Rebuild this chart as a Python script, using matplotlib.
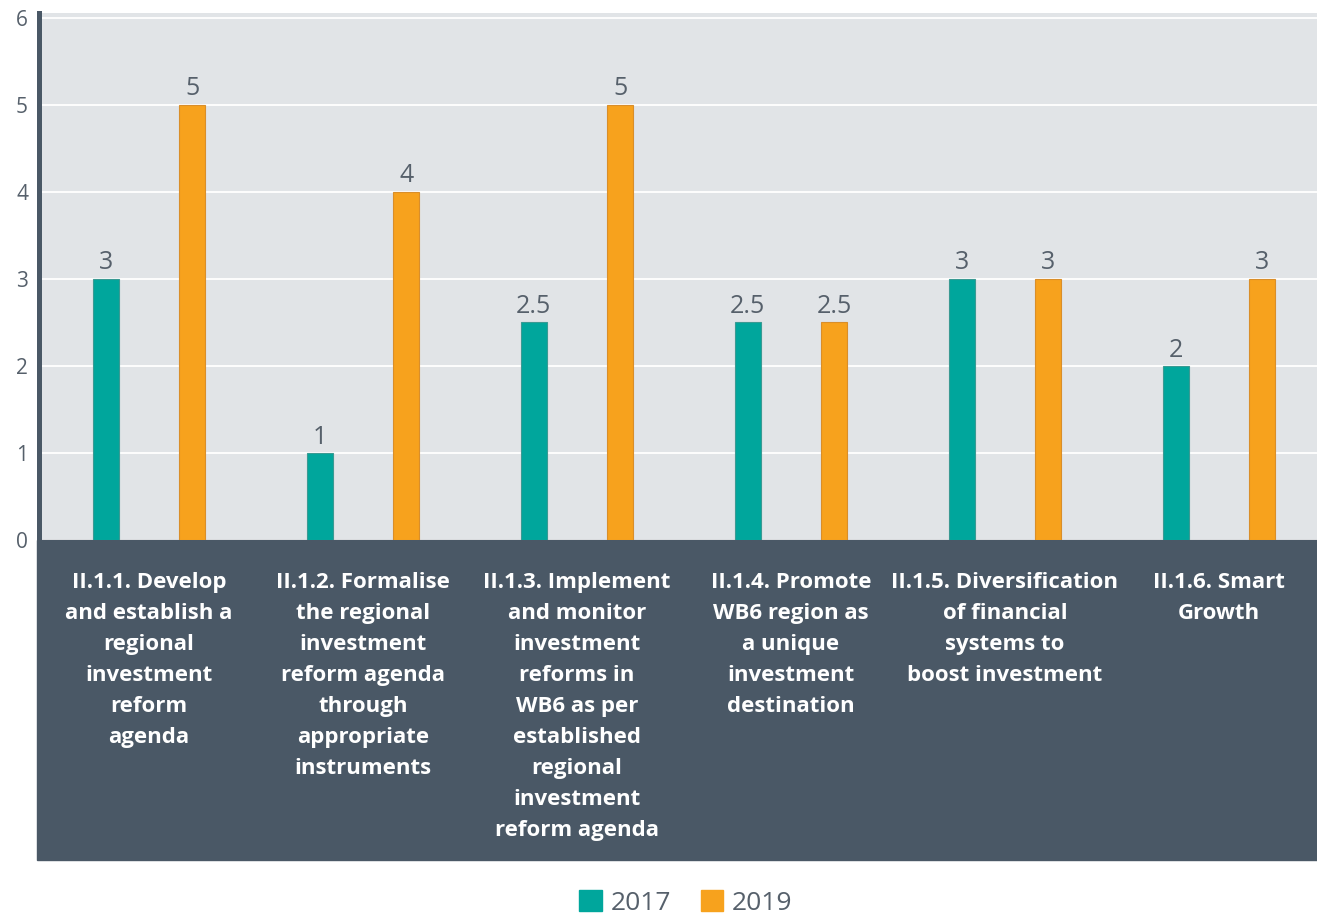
import matplotlib

matplotlib.use("Agg")
import matplotlib.pyplot as plt
import numpy as np
from matplotlib.patches import Rectangle

categories = [
    "II.1.1. Develop\nand establish a\nregional\ninvestment\nreform\nagenda",
    "II.1.2. Formalise\nthe regional\ninvestment\nreform agenda\nthrough\nappropriate\ninstruments",
    "II.1.3. Implement\nand monitor\ninvestment\nreforms in\nWB6 as per\nestablished\nregional\ninvestment\nreform agenda",
    "II.1.4. Promote\nWB6 region as\na unique\ninvestment\ndestination",
    "II.1.5. Diversification\nof financial\nsystems to\nboost investment",
    "II.1.6. Smart\nGrowth",
]
vals_2017 = [3, 1, 2.5, 2.5, 3, 2]
vals_2019 = [5, 4, 5, 2.5, 3, 3]
series_labels = ["2017", "2019"]

TEAL = "#00a69c"
ORANGE = "#f7a21d"
BG = "#e1e4e7"
DARK = "#4a5866"
GREY = "#56606b"

plt.rcParams["font.family"] = ["Open Sans", "DejaVu Sans"]

fig = plt.figure(figsize=(13.17, 9.16), dpi=100)
W, H = 1317, 916
ax_left, ax_right, ax_top, ax_bot = 42, 1317, 13, 540
ax = fig.add_axes([ax_left / W, 1 - ax_bot / H, (ax_right - ax_left) / W, (ax_bot - ax_top) / H])
ax.set_facecolor(BG)

for s in ["top", "right", "bottom"]:
    ax.spines[s].set_visible(False)
ax.spines["left"].set_position(("outward", 2))
ax.spines["left"].set_color(DARK)
ax.spines["left"].set_linewidth(3.6)

x = np.arange(len(categories))
off, w = 0.202, 0.122
ax.bar(x - off, vals_2017, w, color=TEAL, edgecolor="#3a9a93", linewidth=0.8, zorder=3)
ax.bar(x + off, vals_2019, w, color=ORANGE, edgecolor="#d98e2a", linewidth=0.8, zorder=3)

for xi, v in zip(x, vals_2017):
    ax.text(xi - off, v + 0.04, f"{v:g}", ha="center", va="bottom", fontsize=18, color=GREY)
for xi, v in zip(x, vals_2019):
    ax.text(xi + off, v + 0.04, f"{v:g}", ha="center", va="bottom", fontsize=18, color=GREY)

ax.set_xlim(-0.5, 5.458)
ax.set_ylim(0, 6.057)
ax.set_yticks(range(7))
ax.set_yticklabels([str(i) for i in range(7)], fontsize=15, color=GREY)
ax.tick_params(axis="y", length=0, pad=8)
ax.set_xticks([])
ax.grid(axis="y", color="white", linewidth=1.3, zorder=1)

# dark band under the axis with category labels
band_h = (860 - 540) / (ax_bot - ax_top)
band_x0 = -5 / (ax_right - ax_left)
ax.add_patch(Rectangle((band_x0, -band_h), 1 - band_x0, band_h, transform=ax.transAxes,
                       color=DARK, clip_on=False, zorder=2))
for xi, lab in zip(x, categories):
    ax.text(xi, -0.37, lab, ha="center", va="top", fontsize=16, fontweight="bold",
            color="white", linespacing=1.62, clip_on=False)

handles = [Rectangle((0, 0), 1, 1, color=TEAL), Rectangle((0, 0), 1, 1, color=ORANGE)]
fig.legend(handles, series_labels, loc="center", bbox_to_anchor=(686 / W, 1 - 903 / H),
           ncol=2, frameon=False, fontsize=19, handlelength=0.85, handleheight=0.85,
           handletextpad=0.35, columnspacing=1.1, labelcolor=GREY)

fig.savefig("out.png", dpi=100)
